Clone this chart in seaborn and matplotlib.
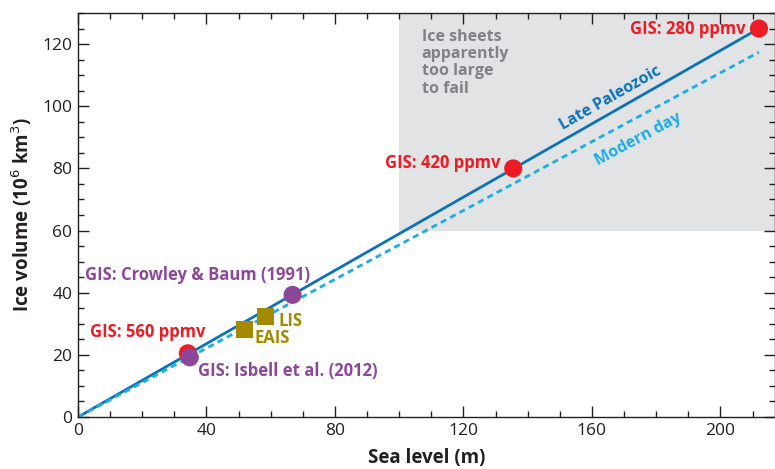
import matplotlib
matplotlib.use("Agg")
import matplotlib.pyplot as plt
import seaborn as sns
import pandas as pd
from matplotlib.ticker import MultipleLocator

sns.set_theme(style="white")
plt.rcParams['font.family'] = ['Open Sans', 'DejaVu Sans']

# ---- data ----
line_x = [0, 212]
late_paleozoic_y = [0, 125]
modern_day_y = [0, 117.4]

red_labels = ["GIS: 280 ppmv", "GIS: 420 ppmv", "GIS: 560 ppmv"]
red_x = [212, 135.5, 34.2]
red_y = [125, 80, 20.5]

purple_labels = ["GIS: Crowley & Baum (1991)", "GIS: Isbell et al. (2012)"]
purple_x = [66.8, 34.8]
purple_y = [39.3, 19.2]

olive_labels = ["EAIS", "LIS"]
olive_x = [51.8, 58.3]
olive_y = [28.2, 32.4]

RED = "#ed1c24"
PURPLE = "#8d4799"
OLIVE = "#a38a00"
BLUE = "#0b72b9"
LBLUE = "#1bade5"
GREY_TXT = "#808285"
GREY_BG = "#e2e3e5"

fig = plt.figure(figsize=(7.75, 4.69), dpi=100)
ax = fig.add_axes([78/775, 1-417/469, (775-78)/775, (417-13)/469])

XMAX, YMAX = 217, 130
ax.set_xlim(0, XMAX)
ax.set_ylim(0, YMAX)

# grey zone
ax.axvspan(100, XMAX, ymin=60/YMAX, ymax=1, color=GREY_BG, lw=0, zorder=0)

lines = pd.DataFrame({"x": line_x * 2,
                      "y": late_paleozoic_y + modern_day_y,
                      "s": ["Late Paleozoic"] * 2 + ["Modern day"] * 2})
sns.lineplot(data=lines[lines.s == "Late Paleozoic"], x="x", y="y", color=BLUE,
             lw=2.0, ax=ax, zorder=2)
sns.lineplot(data=lines[lines.s == "Modern day"], x="x", y="y", color=LBLUE,
             lw=2.0, ax=ax, zorder=2, dashes=False, linestyle=(0, (2.2, 1.6)))

sns.scatterplot(x=red_x, y=red_y, color=RED, s=170, edgecolor="none", ax=ax, zorder=3)
sns.scatterplot(x=purple_x, y=purple_y, color=PURPLE, s=170, edgecolor="none", ax=ax, zorder=4)
sns.scatterplot(x=olive_x, y=olive_y, color=OLIVE, s=150, marker="s", edgecolor="none", ax=ax, zorder=4)

fs = 12
kw = dict(fontsize=fs, fontweight="bold")
ax.text(208, 125, red_labels[0], color=RED, ha="right", va="center", **kw)
ax.text(131.5, 81.6, red_labels[1], color=RED, ha="right", va="center", **kw)
ax.text(3.7, 27.3, red_labels[2], color=RED, ha="left", va="center", **kw)
ax.text(2.2, 45.6, purple_labels[0], color=PURPLE, ha="left", va="center", **kw)
ax.text(37.4, 14.8, purple_labels[1], color=PURPLE, ha="left", va="center", **kw)
ax.text(55.1, 25.4, olive_labels[0], color=OLIVE, ha="left", va="center", **kw)
ax.text(62.3, 30.9, olive_labels[1], color=OLIVE, ha="left", va="center", **kw)
kw2 = dict(fontsize=11.5, fontweight="bold")
ax.text(107, 125.0, "Ice sheets\napparently\ntoo large\nto fail", color=GREY_TXT,
        ha="left", va="top", linespacing=1.12, **kw2)
ax.text(165.7, 102.6, "Late Paleozoic", color=BLUE, ha="center", va="center",
        rotation=29.7, rotation_mode="anchor", **kw2)
ax.text(174.5, 89.2, "Modern day", color=LBLUE, ha="center", va="center",
        rotation=28.2, rotation_mode="anchor", **kw2)

ax.xaxis.set_major_locator(MultipleLocator(40))
ax.xaxis.set_minor_locator(MultipleLocator(10))
ax.yaxis.set_major_locator(MultipleLocator(20))
ax.yaxis.set_minor_locator(MultipleLocator(5))
ax.tick_params(which="both", direction="in", top=True, right=True, bottom=True, left=True,
               color="#231f20", width=1.0)
ax.tick_params(which="major", length=8, labelsize=12.5, labelcolor="#231f20", pad=4)
ax.tick_params(which="minor", length=4)
for s in ax.spines.values():
    s.set_color("#231f20")
    s.set_linewidth(1.0)

ax.set_xlabel("Sea level (m)", fontsize=13.5, fontweight="bold", color="#231f20", labelpad=7)
ax.set_ylabel("Ice volume (10$^{6}$ km$^{3}$)", fontsize=13.5, fontweight="bold",
              color="#231f20", labelpad=6)

fig.savefig("out.png", dpi=100)
